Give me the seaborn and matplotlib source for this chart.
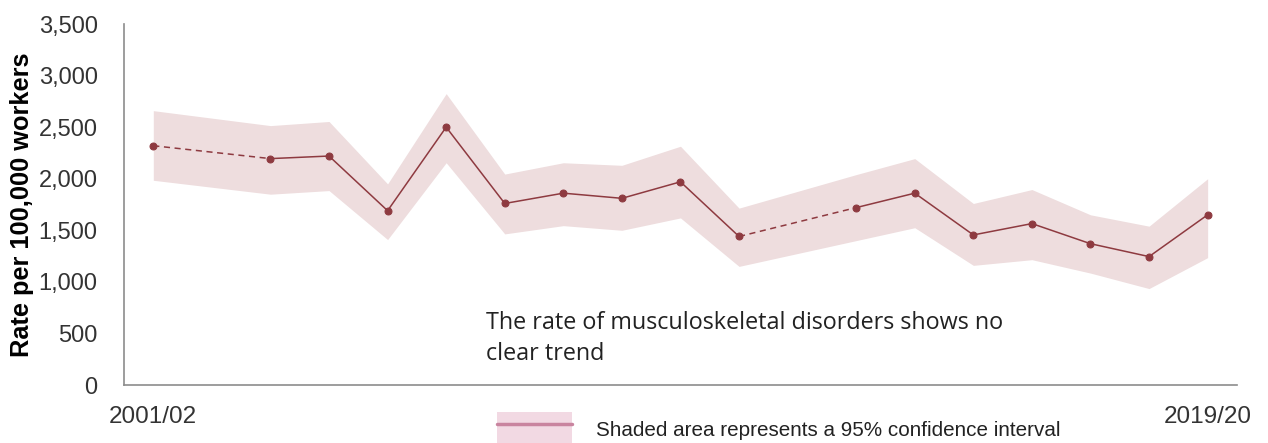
import numpy as np
import pandas as pd
import matplotlib
matplotlib.use("Agg")
import matplotlib.pyplot as plt
from matplotlib.patches import Patch
from matplotlib.lines import Line2D
from matplotlib.legend_handler import HandlerTuple
import seaborn as sns

years = ["2001/02", "2002/03", "2003/04", "2004/05", "2005/06", "2006/07", "2007/08",
         "2008/09", "2009/10", "2010/11", "2011/12", "2012/13", "2013/14", "2014/15",
         "2015/16", "2016/17", "2017/18", "2018/19", "2019/20"]
rate = [2320, np.nan, 2195, 2220, 1690, 2500, 1760, 1860, 1810, 1970, 1440, np.nan,
        1720, 1860, 1455, 1565, 1370, 1245, 1650]
lower = [1985, np.nan, 1850, 1885, 1410, 2155, 1465, 1545, 1500, 1620, 1150, np.nan,
         1400, 1525, 1160, 1215, 1085, 935, 1235]
upper = [2660, np.nan, 2515, 2555, 1950, 2825, 2045, 2155, 2130, 2315, 1715, np.nan,
         2040, 2195, 1760, 1895, 1650, 1540, 2000]
shown_labels = ["2001/02", "2019/20"]
annotation = "The rate of musculoskeletal disorders shows no\nclear trend"
legend_text = "Shaded area represents a 95% confidence interval"
ylabel = "Rate per 100,000 workers"

sns.set_theme(style="white")
plt.rcParams["font.family"] = ["Liberation Sans", "DejaVu Sans"]

LINE = "#8E3A40"
BAND = "#EEDDDE"
AXC = "#8C8C8C"
TXT = "#333333"

df = pd.DataFrame({"pos": np.arange(len(years)), "year": years,
                   "rate": rate, "lower": lower, "upper": upper})
valid = df.dropna()

fig = plt.figure(figsize=(12.68, 4.43), dpi=100)
ax = fig.add_axes([0.0978, 0.1309, 0.8777, 0.8149])

ax.fill_between(valid["pos"], valid["lower"], valid["upper"], color=BAND, lw=0, zorder=1)

pos = valid["pos"].to_numpy()
breaks = np.where(np.diff(pos) > 1)[0]
starts = np.r_[0, breaks + 1]
ends = np.r_[breaks, len(pos) - 1]
for s, e in zip(starts, ends):
    seg = valid.iloc[s:e + 1]
    sns.lineplot(data=seg, x="pos", y="rate", ax=ax, color=LINE, lw=1.1,
                 marker="o", markersize=5, markeredgecolor=LINE, zorder=3)
for b in breaks:
    seg = valid.iloc[b:b + 2]
    sns.lineplot(data=seg, x="pos", y="rate", ax=ax, color=LINE, lw=1.1,
                 linestyle=(0, (4, 3)), zorder=2)

ax.set_xlim(-0.5, len(years) - 0.5)
ax.set_ylim(0, 3500)
ax.set_yticks(np.arange(0, 3501, 500))
ax.set_yticklabels([f"{v:,}" for v in range(0, 3501, 500)], fontsize=17, color=TXT)
ax.set_xticks(np.arange(-0.5, len(years), 1.0))
ax.set_xticklabels([])
label_pos = [years.index(l) for l in shown_labels]
ax.set_xticks(label_pos, minor=True)
ax.set_xticklabels(shown_labels, minor=True, fontsize=17.5, color=TXT)
ax.tick_params(axis="x", which="major", direction="out", length=7, color=AXC, width=1)
ax.tick_params(axis="x", which="minor", length=0, pad=15)
ax.tick_params(axis="y", direction="out", length=7, color=AXC, width=1, pad=12)
ax.set_xlabel("")
ax.set_ylabel(ylabel, fontsize=18.3, fontweight="bold", color="black", labelpad=3)

for side in ["top", "right"]:
    ax.spines[side].set_visible(False)
for side in ["left", "bottom"]:
    ax.spines[side].set_color(AXC)
    ax.spines[side].set_linewidth(1.2)

ax.text(5.68, 720, annotation, fontsize=16.8, family=["Open Sans", "DejaVu Sans"],
        color="#222222", va="top", ha="left", linespacing=1.38)

handle = (Patch(facecolor="#F2D9E3", edgecolor="none"),
          Line2D([], [], color="#C9849F", lw=2.5))
fig.legend([handle], [legend_text], handler_map={tuple: HandlerTuple(ndivide=1)},
           loc="center left", bbox_to_anchor=(0.392, 0.0293), frameon=False,
           borderaxespad=0, borderpad=0,
           fontsize=14.9, handlelength=3.6, handleheight=2.3, handletextpad=1.2,
           labelcolor="#222222")

fig.savefig("out.png", dpi=100)
